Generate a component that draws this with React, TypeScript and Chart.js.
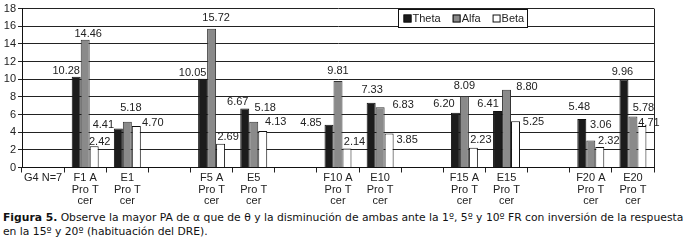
import React, { useEffect, useRef } from "react";
import { Chart, registerables } from "chart.js";

Chart.register(...registerables);

// ---- data ----
const categories: string[][] = [
  ["G4 N=7"],
  ["F1 A", "Pro T", "cer"],
  ["E1", "Pro T", "cer"],
  [""],
  ["F5 A", "Pro T", "cer"],
  ["E5", "Pro T", "cer"],
  [""],
  ["F10 A", "Pro T", "cer"],
  ["E10", "Pro T", "cer"],
  [""],
  ["F15 A", "Pro T", "cer"],
  ["E15", "Pro T", "cer"],
  [""],
  ["F20 A", "Pro T", "cer"],
  ["E20", "Pro T", "cer"],
];
const theta = [null, 10.28, 4.41, null, 10.05, 6.67, null, 4.85, 7.33, null, 6.2, 6.41, null, 5.48, 9.96];
const alfa = [null, 14.46, 5.18, null, 15.72, 5.18, null, 9.81, 6.83, null, 8.09, 8.8, null, 3.06, 5.78];
const beta = [null, 2.42, 4.7, null, 2.69, 4.13, null, 2.14, 3.85, null, 2.23, 5.25, null, 2.32, 4.71];
const seriesNames = ["Theta", "Alfa", "Beta"];
const yMin = 0;
const yMax = 18;
const yStep = 2;

const captionLine1Bold = "Figura 5.";
const captionLine1 = " Observe la mayor PA de α que de θ y la disminución de ambas ante la 1º, 5º y 10º FR con inversión de la respuesta";
const captionLine2 = "en la 15º y 20º (habituación del DRE).";

// ---- label placement (text centre offset from bar top-centre, px) ----
type Nudge = [number, number] | null;
const thetaNudge: Nudge[] = [null, [-10, -6], [-15, -4], null, [-10, -6], [-7, -7], null, [-18, -1.5], [1, -12.5], null, [-11.5, -9], [-9.5, -7], null, [-2.5, -12], [-1.5, -7.6]];
const alfaNudge: Nudge[] = [null, [3, -5.4], [3.5, -13.6], null, [4.5, -11], [11.5, -14], null, [0, -9.6], [23, -2], null, [0, -10], [20.5, -3], null, [10, -16], [10.5, -8.6]];
const betaNudge: Nudge[] = [null, [5.5, -4], [16.5, -3], null, [7.5, -6.7], [13, -9], null, [7.5, -6.5], [18, 6.6], null, [7.5, -8], [18, 1], null, [9, -6], [7, -3]];

const colors = ["#1c1c1c", "#8a8a8a", "#ffffff"];
const FONT = "'Liberation Sans', Arial, sans-serif";

export default function App() {
  const canvasRef = useRef<HTMLCanvasElement | null>(null);
  const line1Ref = useRef<HTMLDivElement | null>(null);
  const line2Ref = useRef<HTMLDivElement | null>(null);

  useEffect(() => {
    const canvas = canvasRef.current;
    if (!canvas) return;
    const nudges = [thetaNudge, alfaNudge, betaNudge];

    const labelPlugin = {
      id: "barLabels",
      afterDatasetsDraw(chart: any) {
        const ctx = chart.ctx;
        ctx.save();
        ctx.font = `11px ${FONT}`;
        ctx.fillStyle = "#222";
        ctx.textAlign = "center";
        ctx.textBaseline = "middle";
        chart.data.datasets.forEach((ds: any, di: number) => {
          const meta = chart.getDatasetMeta(di);
          meta.data.forEach((el: any, i: number) => {
            const v = ds.data[i];
            if (v == null) return;
            const n = nudges[di][i] || [0, -6];
            ctx.fillText(Number(v).toFixed(2), el.x + n[0], el.y + n[1]);
          });
        });
        ctx.restore();
      },
    };

    const framePlugin = {
      id: "frameLegend",
      afterDraw(chart: any) {
        const ctx = chart.ctx;
        const a = chart.chartArea;
        ctx.save();
        ctx.strokeStyle = "#222";
        ctx.lineWidth = 1;
        ctx.beginPath();
        ctx.moveTo(Math.round(a.right) + 0.5, a.top);
        ctx.lineTo(Math.round(a.right) + 0.5, a.bottom);
        ctx.stroke();

        // legend box inside the plot
        const y16 = chart.scales.y.getPixelForValue(16);
        const bx = Math.round(a.left + 376) + 0.5;
        const by = Math.round(a.top) + 0.5;
        const bw = 129;
        const bh = Math.round(y16 - a.top);
        ctx.fillStyle = "#fff";
        ctx.fillRect(bx, by, bw, bh);
        ctx.strokeStyle = "#111";
        ctx.strokeRect(bx, by, bw, bh);
        ctx.font = `11px ${FONT}`;
        ctx.textBaseline = "middle";
        ctx.textAlign = "left";
        const cy = by + bh / 2;
        let x = bx + 5;
        seriesNames.forEach((name, i) => {
          ctx.fillStyle = colors[i];
          ctx.fillRect(x, cy - 4, 8, 8);
          ctx.strokeStyle = "#111";
          ctx.strokeRect(x + 0.5, cy - 3.5, 7, 7);
          ctx.fillStyle = "#222";
          ctx.fillText(name, x + 9, cy + 0.5);
          x += 9 + ctx.measureText(name).width + 12;
        });
        ctx.restore();
      },
    };

    const chart = new Chart(canvas, {
      type: "bar",
      data: {
        labels: categories,
        datasets: [
          { label: seriesNames[0], data: theta, backgroundColor: colors[0], borderColor: "#111", borderWidth: 1 },
          { label: seriesNames[1], data: alfa, backgroundColor: colors[1], borderColor: "#333", borderWidth: 1 },
          { label: seriesNames[2], data: beta, backgroundColor: colors[2], borderColor: "#111", borderWidth: 1 },
        ],
      },
      options: {
        responsive: false,
        animation: false,
        devicePixelRatio: 1,
        layout: { padding: { top: 8, right: 31, left: 0, bottom: 0 } },
        datasets: { bar: { categoryPercentage: 0.64, barPercentage: 1.0 } } as any,
        plugins: {
          legend: { display: false },
          tooltip: { enabled: false },
        },
        scales: {
          x: {
            offset: true,
            grid: {
              offset: true,
              drawOnChartArea: false,
              drawTicks: true,
              tickLength: 5,
              color: "#222",
            },
            border: { color: "#111" },
            ticks: {
              autoSkip: false,
              maxRotation: 0,
              minRotation: 0,
              padding: 0,
              color: "#222",
              font: { family: FONT, size: 11, lineHeight: 1.05 },
            },
            afterFit(scale: any) {
              scale.height = 37.5;
            },
          },
          y: {
            min: yMin,
            max: yMax,
            ticks: {
              stepSize: yStep,
              padding: 2,
              color: "#222",
              font: { family: FONT, size: 11 },
            },
            grid: { color: "#222", tickLength: 4, drawTicks: true },
            border: { color: "#111" },
            afterFit(scale: any) {
              scale.width = 22;
            },
          },
        },
      },
      plugins: [labelPlugin, framePlugin],
    });

    // fit the caption to the figure width
    const l1 = line1Ref.current;
    const l2 = line2Ref.current;
    if (l1 && l2) {
      const w = l1.scrollWidth;
      const s = w > 0 ? 680 / w : 1;
      l1.style.transform = `scaleX(${s})`;
      l2.style.transform = `scaleX(${s})`;
    }

    return () => chart.destroy();
  }, []);

  const capStyle: React.CSSProperties = {
    position: "absolute",
    left: 3,
    whiteSpace: "nowrap",
    transformOrigin: "0 0",
    fontFamily: "'DejaVu Sans Condensed', 'Liberation Sans Narrow', 'Noto Sans', sans-serif",
    fontSize: 11,
    lineHeight: "13px",
    color: "#111",
    display: "inline-block",
  };

  return (
    <div style={{ position: "absolute", left: 0, top: 0, width: 685, height: 240, background: "#fff", overflow: "hidden" }}>
      <canvas ref={canvasRef} width={685} height={205} style={{ position: "absolute", left: 0, top: 0, width: 685, height: 205 }} />
      <div ref={line1Ref} style={{ ...capStyle, top: 211 }}>
        <b>{captionLine1Bold}</b>
        {captionLine1}
      </div>
      <div ref={line2Ref} style={{ ...capStyle, top: 224.5 }}>
        {captionLine2}
      </div>
    </div>
  );
}
